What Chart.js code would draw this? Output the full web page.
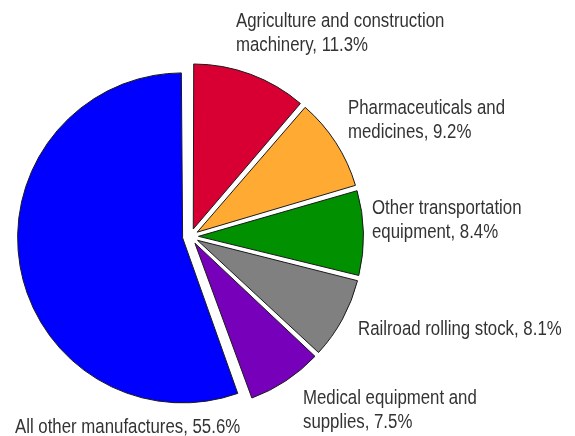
<!DOCTYPE html>
<html>
<head>
<meta charset="utf-8">
<script src="https://cdn.jsdelivr.net/npm/chart.js@4/dist/chart.umd.min.js"></script>
<style>
  html, body { margin: 0; padding: 0; background: #fff; }
  #wrap { width: 575px; height: 436px; }
</style>
</head>
<body>
<div id="wrap"><canvas id="pie"></canvas></div>
<script>
// Datos del gráfico
const categories = [
    'Agriculture and construction machinery',
    'Pharmaceuticals and medicines',
    'Other transportation equipment',
    'Railroad rolling stock',
    'Medical equipment and supplies',
    'All other manufactures'
];
const shares = [11.3, 9.2, 8.4, 8.1, 7.5, 55.6];

// Etiquetas tal como aparecen en la imagen (una línea por elemento)
const labelLines = [
    ['Agriculture and construction', 'machinery, 11.3%'],
    ['Pharmaceuticals and', 'medicines, 9.2%'],
    ['Other transportation', 'equipment, 8.4%'],
    ['Railroad rolling stock, 8.1%'],
    ['Medical equipment and', 'supplies, 7.5%'],
    ['All other manufactures, 55.6%']
];

// Estilos
const sliceColors = ['#D80032', '#FFAA33', '#009000', '#808080', '#7700BB', '#0000FF'];
const labelAnchors = [[236, 21], [348, 108], [372, 208], [358, 329], [303, 398], [15, 427]];
const lineHeight = 24;
const explode = 8; // desplazamiento de cada porción en píxeles

// Chart.js v4 traslada la porción offset/4 y además agranda su radio;
// este plugin deshace el agrandamiento para que todas queden con el mismo radio
const keepRadiusPlugin = {
    id: 'keepRadius',
    afterDatasetsUpdate(chart) {
        chart.getDatasetMeta(0).data.forEach(arc => {
            const circ = arc.endAngle - arc.startAngle;
            const fix = 1 - Math.sin(Math.min(Math.PI, circ));
            arc.outerRadius -= explode * fix;
        });
    }
};

// Plugin para dibujar las etiquetas de texto (fuente estrecha simulada)
const labelPlugin = {
    id: 'sliceLabels',
    afterDraw(chart) {
        const ctx = chart.ctx;
        const squeeze = 0.82;
        ctx.save();
        ctx.font = '20.5px "Liberation Sans", Arial, sans-serif';
        ctx.fillStyle = '#333333';
        ctx.textAlign = 'left';
        ctx.textBaseline = 'middle';
        ctx.scale(squeeze, 1);
        labelLines.forEach((lines, i) => {
            const [x, y] = labelAnchors[i];
            lines.forEach((txt, j) => ctx.fillText(txt, x / squeeze, y + j * lineHeight));
        });
        ctx.restore();
    }
};

new Chart(document.getElementById('pie'), {
    type: 'pie',
    data: {
        labels: categories,
        datasets: [{
            data: shares,
            backgroundColor: sliceColors,
            borderColor: '#1a1a1a',
            borderWidth: 1,
            offset: explode * 4,
            hoverOffset: 0,
            radius: 165
        }]
    },
    options: {
        responsive: true,
        maintainAspectRatio: false,
        animation: false,
        layout: {
            padding: { left: 20, right: 214, top: 66, bottom: 29 }
        },
        plugins: {
            legend: { display: false },
            tooltip: { enabled: false }
        }
    },
    plugins: [keepRadiusPlugin, labelPlugin]
});
</script>
</body>
</html>
